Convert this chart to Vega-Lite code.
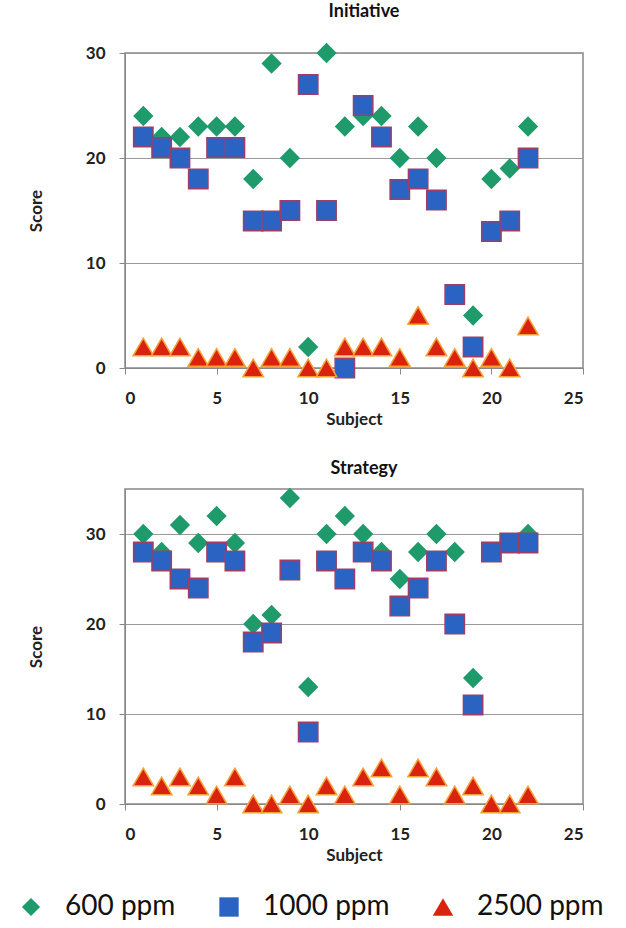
{
  "$schema": "https://vega.github.io/schema/vega-lite/v6.json",
  "padding": {"left": 17, "top": 2, "right": 0, "bottom": 0},
  "background": "white",
  "datasets": {
    "scores": [
      {"chart":"Initiative","series":"600 ppm","subject":1,"score":24},
      {"chart":"Initiative","series":"600 ppm","subject":2,"score":22},
      {"chart":"Initiative","series":"600 ppm","subject":3,"score":22},
      {"chart":"Initiative","series":"600 ppm","subject":4,"score":23},
      {"chart":"Initiative","series":"600 ppm","subject":5,"score":23},
      {"chart":"Initiative","series":"600 ppm","subject":6,"score":23},
      {"chart":"Initiative","series":"600 ppm","subject":7,"score":18},
      {"chart":"Initiative","series":"600 ppm","subject":8,"score":29},
      {"chart":"Initiative","series":"600 ppm","subject":9,"score":20},
      {"chart":"Initiative","series":"600 ppm","subject":10,"score":2},
      {"chart":"Initiative","series":"600 ppm","subject":11,"score":30},
      {"chart":"Initiative","series":"600 ppm","subject":12,"score":23},
      {"chart":"Initiative","series":"600 ppm","subject":13,"score":24},
      {"chart":"Initiative","series":"600 ppm","subject":14,"score":24},
      {"chart":"Initiative","series":"600 ppm","subject":15,"score":20},
      {"chart":"Initiative","series":"600 ppm","subject":16,"score":23},
      {"chart":"Initiative","series":"600 ppm","subject":17,"score":20},
      {"chart":"Initiative","series":"600 ppm","subject":18,"score":7},
      {"chart":"Initiative","series":"600 ppm","subject":19,"score":5},
      {"chart":"Initiative","series":"600 ppm","subject":20,"score":18},
      {"chart":"Initiative","series":"600 ppm","subject":21,"score":19},
      {"chart":"Initiative","series":"600 ppm","subject":22,"score":23},
      {"chart":"Initiative","series":"1000 ppm","subject":1,"score":22},
      {"chart":"Initiative","series":"1000 ppm","subject":2,"score":21},
      {"chart":"Initiative","series":"1000 ppm","subject":3,"score":20},
      {"chart":"Initiative","series":"1000 ppm","subject":4,"score":18},
      {"chart":"Initiative","series":"1000 ppm","subject":5,"score":21},
      {"chart":"Initiative","series":"1000 ppm","subject":6,"score":21},
      {"chart":"Initiative","series":"1000 ppm","subject":7,"score":14},
      {"chart":"Initiative","series":"1000 ppm","subject":8,"score":14},
      {"chart":"Initiative","series":"1000 ppm","subject":9,"score":15},
      {"chart":"Initiative","series":"1000 ppm","subject":10,"score":27},
      {"chart":"Initiative","series":"1000 ppm","subject":11,"score":15},
      {"chart":"Initiative","series":"1000 ppm","subject":12,"score":0},
      {"chart":"Initiative","series":"1000 ppm","subject":13,"score":25},
      {"chart":"Initiative","series":"1000 ppm","subject":14,"score":22},
      {"chart":"Initiative","series":"1000 ppm","subject":15,"score":17},
      {"chart":"Initiative","series":"1000 ppm","subject":16,"score":18},
      {"chart":"Initiative","series":"1000 ppm","subject":17,"score":16},
      {"chart":"Initiative","series":"1000 ppm","subject":18,"score":7},
      {"chart":"Initiative","series":"1000 ppm","subject":19,"score":2},
      {"chart":"Initiative","series":"1000 ppm","subject":20,"score":13},
      {"chart":"Initiative","series":"1000 ppm","subject":21,"score":14},
      {"chart":"Initiative","series":"1000 ppm","subject":22,"score":20},
      {"chart":"Initiative","series":"2500 ppm","subject":1,"score":2},
      {"chart":"Initiative","series":"2500 ppm","subject":2,"score":2},
      {"chart":"Initiative","series":"2500 ppm","subject":3,"score":2},
      {"chart":"Initiative","series":"2500 ppm","subject":4,"score":1},
      {"chart":"Initiative","series":"2500 ppm","subject":5,"score":1},
      {"chart":"Initiative","series":"2500 ppm","subject":6,"score":1},
      {"chart":"Initiative","series":"2500 ppm","subject":7,"score":0},
      {"chart":"Initiative","series":"2500 ppm","subject":8,"score":1},
      {"chart":"Initiative","series":"2500 ppm","subject":9,"score":1},
      {"chart":"Initiative","series":"2500 ppm","subject":10,"score":0},
      {"chart":"Initiative","series":"2500 ppm","subject":11,"score":0},
      {"chart":"Initiative","series":"2500 ppm","subject":12,"score":2},
      {"chart":"Initiative","series":"2500 ppm","subject":13,"score":2},
      {"chart":"Initiative","series":"2500 ppm","subject":14,"score":2},
      {"chart":"Initiative","series":"2500 ppm","subject":15,"score":1},
      {"chart":"Initiative","series":"2500 ppm","subject":16,"score":5},
      {"chart":"Initiative","series":"2500 ppm","subject":17,"score":2},
      {"chart":"Initiative","series":"2500 ppm","subject":18,"score":1},
      {"chart":"Initiative","series":"2500 ppm","subject":19,"score":0},
      {"chart":"Initiative","series":"2500 ppm","subject":20,"score":1},
      {"chart":"Initiative","series":"2500 ppm","subject":21,"score":0},
      {"chart":"Initiative","series":"2500 ppm","subject":22,"score":4},
      {"chart":"Strategy","series":"600 ppm","subject":1,"score":30},
      {"chart":"Strategy","series":"600 ppm","subject":2,"score":28},
      {"chart":"Strategy","series":"600 ppm","subject":3,"score":31},
      {"chart":"Strategy","series":"600 ppm","subject":4,"score":29},
      {"chart":"Strategy","series":"600 ppm","subject":5,"score":32},
      {"chart":"Strategy","series":"600 ppm","subject":6,"score":29},
      {"chart":"Strategy","series":"600 ppm","subject":7,"score":20},
      {"chart":"Strategy","series":"600 ppm","subject":8,"score":21},
      {"chart":"Strategy","series":"600 ppm","subject":9,"score":34},
      {"chart":"Strategy","series":"600 ppm","subject":10,"score":13},
      {"chart":"Strategy","series":"600 ppm","subject":11,"score":30},
      {"chart":"Strategy","series":"600 ppm","subject":12,"score":32},
      {"chart":"Strategy","series":"600 ppm","subject":13,"score":30},
      {"chart":"Strategy","series":"600 ppm","subject":14,"score":28},
      {"chart":"Strategy","series":"600 ppm","subject":15,"score":25},
      {"chart":"Strategy","series":"600 ppm","subject":16,"score":28},
      {"chart":"Strategy","series":"600 ppm","subject":17,"score":30},
      {"chart":"Strategy","series":"600 ppm","subject":18,"score":28},
      {"chart":"Strategy","series":"600 ppm","subject":19,"score":14},
      {"chart":"Strategy","series":"600 ppm","subject":20,"score":28},
      {"chart":"Strategy","series":"600 ppm","subject":21,"score":29},
      {"chart":"Strategy","series":"600 ppm","subject":22,"score":30},
      {"chart":"Strategy","series":"1000 ppm","subject":1,"score":28},
      {"chart":"Strategy","series":"1000 ppm","subject":2,"score":27},
      {"chart":"Strategy","series":"1000 ppm","subject":3,"score":25},
      {"chart":"Strategy","series":"1000 ppm","subject":4,"score":24},
      {"chart":"Strategy","series":"1000 ppm","subject":5,"score":28},
      {"chart":"Strategy","series":"1000 ppm","subject":6,"score":27},
      {"chart":"Strategy","series":"1000 ppm","subject":7,"score":18},
      {"chart":"Strategy","series":"1000 ppm","subject":8,"score":19},
      {"chart":"Strategy","series":"1000 ppm","subject":9,"score":26},
      {"chart":"Strategy","series":"1000 ppm","subject":10,"score":8},
      {"chart":"Strategy","series":"1000 ppm","subject":11,"score":27},
      {"chart":"Strategy","series":"1000 ppm","subject":12,"score":25},
      {"chart":"Strategy","series":"1000 ppm","subject":13,"score":28},
      {"chart":"Strategy","series":"1000 ppm","subject":14,"score":27},
      {"chart":"Strategy","series":"1000 ppm","subject":15,"score":22},
      {"chart":"Strategy","series":"1000 ppm","subject":16,"score":24},
      {"chart":"Strategy","series":"1000 ppm","subject":17,"score":27},
      {"chart":"Strategy","series":"1000 ppm","subject":18,"score":20},
      {"chart":"Strategy","series":"1000 ppm","subject":19,"score":11},
      {"chart":"Strategy","series":"1000 ppm","subject":20,"score":28},
      {"chart":"Strategy","series":"1000 ppm","subject":21,"score":29},
      {"chart":"Strategy","series":"1000 ppm","subject":22,"score":29},
      {"chart":"Strategy","series":"2500 ppm","subject":1,"score":3},
      {"chart":"Strategy","series":"2500 ppm","subject":2,"score":2},
      {"chart":"Strategy","series":"2500 ppm","subject":3,"score":3},
      {"chart":"Strategy","series":"2500 ppm","subject":4,"score":2},
      {"chart":"Strategy","series":"2500 ppm","subject":5,"score":1},
      {"chart":"Strategy","series":"2500 ppm","subject":6,"score":3},
      {"chart":"Strategy","series":"2500 ppm","subject":7,"score":0},
      {"chart":"Strategy","series":"2500 ppm","subject":8,"score":0},
      {"chart":"Strategy","series":"2500 ppm","subject":9,"score":1},
      {"chart":"Strategy","series":"2500 ppm","subject":10,"score":0},
      {"chart":"Strategy","series":"2500 ppm","subject":11,"score":2},
      {"chart":"Strategy","series":"2500 ppm","subject":12,"score":1},
      {"chart":"Strategy","series":"2500 ppm","subject":13,"score":3},
      {"chart":"Strategy","series":"2500 ppm","subject":14,"score":4},
      {"chart":"Strategy","series":"2500 ppm","subject":15,"score":1},
      {"chart":"Strategy","series":"2500 ppm","subject":16,"score":4},
      {"chart":"Strategy","series":"2500 ppm","subject":17,"score":3},
      {"chart":"Strategy","series":"2500 ppm","subject":18,"score":1},
      {"chart":"Strategy","series":"2500 ppm","subject":19,"score":2},
      {"chart":"Strategy","series":"2500 ppm","subject":20,"score":0},
      {"chart":"Strategy","series":"2500 ppm","subject":21,"score":0},
      {"chart":"Strategy","series":"2500 ppm","subject":22,"score":1}
    ]
  },
  "spacing": 31,
  "vconcat": [
    {
      "title": {"text": "Initiative", "offset": 20, "dx": 10},
      "width": 458,
      "height": 315,
      "data": {"name": "scores"},
      "transform": [{"filter": "datum.chart === 'Initiative'"}],
      "mark": {"type": "point", "filled": true, "strokeWidth": 1.5, "opacity": 1},
      "encoding": {
        "x": {"field": "subject", "type": "quantitative", "scale": {"domain": [0, 25]},
              "axis": {"title": "Subject", "values": [0, 5, 10, 15, 20, 25], "grid": false, "tickSize": 6, "labelPadding": 16, "titlePadding": 5}},
        "y": {"field": "score", "type": "quantitative", "scale": {"domain": [0, 30]},
              "axis": {"title": "Score", "values": [0, 10, 20, 30], "grid": true, "tickSize": 6, "labelPadding": 14, "titlePadding": 40}},
        "shape": {"field": "series", "type": "nominal", "scale": {"domain": ["600 ppm", "1000 ppm", "2500 ppm"], "range": ["diamond", "square", "triangle-up"]}},
        "color": {"field": "series", "type": "nominal", "scale": {"domain": ["600 ppm", "1000 ppm", "2500 ppm"], "range": ["#1f9a6b", "#2a63c2", "#d9230f"]}},
        "stroke": {"field": "series", "type": "nominal", "scale": {"domain": ["600 ppm", "1000 ppm", "2500 ppm"], "range": ["#1f9a6b", "#9b3f6a", "#f3a23a"]}},
        "size": {"field": "series", "type": "ordinal", "scale": {"domain": ["600 ppm", "1000 ppm", "2500 ppm"], "range": [330, 420, 340]}}
      }
    },
    {
      "title": {"text": "Strategy", "offset": 8, "dx": 10},
      "width": 458,
      "height": 315,
      "data": {"name": "scores"},
      "transform": [{"filter": "datum.chart === 'Strategy'"}],
      "mark": {"type": "point", "filled": true, "strokeWidth": 1.5, "opacity": 1},
      "encoding": {
        "x": {"field": "subject", "type": "quantitative", "scale": {"domain": [0, 25]},
              "axis": {"title": "Subject", "values": [0, 5, 10, 15, 20, 25], "grid": false, "tickSize": 6, "labelPadding": 16, "titlePadding": 5}},
        "y": {"field": "score", "type": "quantitative", "scale": {"domain": [0, 35]},
              "axis": {"title": "Score", "values": [0, 10, 20, 30], "grid": true, "tickSize": 6, "labelPadding": 14, "titlePadding": 40}},
        "shape": {"field": "series", "type": "nominal", "scale": {"domain": ["600 ppm", "1000 ppm", "2500 ppm"], "range": ["diamond", "square", "triangle-up"]}},
        "color": {"field": "series", "type": "nominal", "scale": {"domain": ["600 ppm", "1000 ppm", "2500 ppm"], "range": ["#1f9a6b", "#2a63c2", "#d9230f"]}},
        "stroke": {"field": "series", "type": "nominal", "scale": {"domain": ["600 ppm", "1000 ppm", "2500 ppm"], "range": ["#1f9a6b", "#9b3f6a", "#f3a23a"]}},
        "size": {"field": "series", "type": "ordinal", "scale": {"domain": ["600 ppm", "1000 ppm", "2500 ppm"], "range": [330, 420, 340]}}
      }
    }
  ],
  "config": {
    "font": "Lato",
    "view": {"stroke": "#888888", "strokeWidth": 1.5},
    "axis": {
      "labelFont": "Lato", "labelFontWeight": "bold", "labelFontSize": 17, "labelColor": "#222222",
      "titleFont": "Lato", "titleFontWeight": "bold", "titleFontSize": 17, "titleColor": "#222222",
      "domainColor": "#888888", "tickColor": "#888888", "gridColor": "#999999", "gridWidth": 1.2
    },
    "title": {"font": "Lato", "fontSize": 18, "fontWeight": "bold", "color": "#111111", "anchor": "middle"},
    "legend": {
      "orient": "none", "legendX": -108, "legendY": 840, "direction": "horizontal", "title": null,
      "labelFont": "Lato", "labelFontSize": 28, "labelColor": "#111111", "labelOffset": 20,
      "columnPadding": 39, "symbolStrokeWidth": 0
    }
  }
}
